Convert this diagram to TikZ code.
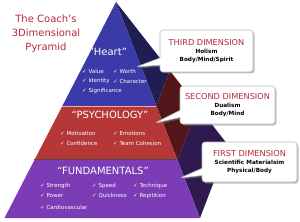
\documentclass[tikz,border=0pt]{standalone}
\usepackage{fontspec}
\setmainfont{DejaVu Sans}
\usetikzlibrary{calc, shapes.callouts, shadows}
\definecolor{heartblue}{RGB}{58, 58, 168}
\definecolor{heartdark}{RGB}{30, 30, 82}
\definecolor{psyred}{RGB}{182, 55, 55}
\definecolor{psydark}{RGB}{82, 22, 26}
\definecolor{fundpurple}{RGB}{124, 60, 182}
\definecolor{funddark}{RGB}{46, 26, 78}
\definecolor{titlered}{RGB}{180, 42, 58}
\tikzset{
  layertitle/.style={text=white, inner sep=0pt, font=\fontsize{10}{12}\selectfont},
  item/.style={text=white, anchor=west, inner sep=0pt, font=\fontsize{5.5}{6}\selectfont},
  dimbox/.style={rectangle callout, rounded corners=3pt, draw=gray!55, fill=white,
              line width=0.6pt, align=center, inner sep=1pt, font=\fontsize{5.7}{8.2}\selectfont\bfseries,
              drop shadow={shadow xshift=1.5pt, shadow yshift=-1.5pt, opacity=0.5}},
}
\newcommand{\dimhead}[1]{{\color{titlered}\fontsize{8.2}{9}\mdseries\selectfont #1}}

\begin{document}
\begin{tikzpicture}[x=1pt, y=-1pt]
    \useasboundingbox (0,0) rectangle (300,222);
    % corners of the pyramid
    \coordinate (apex) at (116,2);
    \coordinate (fl) at (4.5,218);
    \coordinate (fr) at (200,218);
    \coordinate (br) at (228,145);
    % cuts between the layers
    \coordinate (l1) at ($(apex)!0.481!(fl)$);
    \coordinate (r1) at ($(apex)!0.481!(fr)$);
    \coordinate (b1) at ($(apex)!0.481!(br)$);
    \coordinate (l2) at ($(apex)!0.731!(fl)$);
    \coordinate (r2) at ($(apex)!0.731!(fr)$);
    \coordinate (b2) at ($(apex)!0.731!(br)$);

    % side face
    \fill[heartdark] (apex) -- (r1) -- (b1) -- cycle;
    \fill[psydark] (r1) -- (r2) -- (b2) -- (b1) -- cycle;
    \fill[funddark] (r2) -- (fr) -- (br) -- (b2) -- cycle;
    % front face
    \fill[heartblue] (apex) -- (l1) -- (r1) -- cycle;
    \fill[psyred] (l1) -- (l2) -- (r2) -- (r1) -- cycle;
    \fill[fundpurple] (l2) -- (fl) -- (fr) -- (r2) -- cycle;
    \draw[white!60!psyred, line width=0.5pt] (l1) -- (r1);
    \draw[black!70, line width=0.8pt] (l2) -- (r2);

    \node[font=\fontsize{10}{14}\selectfont, text=titlered, align=center] (title) at (46,34)
        {The Coach’s\\3Dimensional\\Pyramid};

    \node[layertitle] (heart) at (108,52) {“Heart”};
    \node[item] (value) at (82,71) {✓ Value};
    \node[item] (worth) at (113,71) {✓ Worth};
    \node[item] (identity) at (82,81) {✓ Identity};
    \node[item] (character) at (113,81) {✓ Character};
    \node[item] (significance) at (82,91) {✓ Significance};

    \node[layertitle] (psych) at (110,115) {“PSYCHOLOGY”};
    \node[item] (motivation) at (60,133) {✓ Motivation};
    \node[item] (emotions) at (113,133) {✓ Emotions};
    \node[item] (confidence) at (60,143) {✓ Confidence};
    \node[item] (cohesion) at (113,143) {✓ Team Cohesion};

    \node[layertitle] (fund) at (103,171) {“FUNDAMENTALS”};
    \node[item] (strength) at (40,186) {✓ Strength};
    \node[item] (speed) at (92,186) {✓ Speed};
    \node[item] (technique) at (133,186) {✓ Technique};
    \node[item] (power) at (40,196) {✓ Power};
    \node[item] (quickness) at (92,196) {✓ Quickness};
    \node[item] (repitition) at (133,196) {✓ Repitition};
    \node[item] (cardio) at (40,207) {✓ Cardiovascular};

    % callouts
    \coordinate (tip3) at (136,67);
    \coordinate (tip2) at (155,123);
    \coordinate (tip1) at (180,178);
    \node[dimbox, minimum width=93pt, minimum height=42pt, callout absolute pointer={(tip3)}] (third) at (206.5,51)
        {\dimhead{THIRD DIMENSION}\\Holism\\Body/Mind/Spirit};
    \node[dimbox, minimum width=95pt, minimum height=38pt, callout absolute pointer={(tip2)}] (second) at (227.5,105)
        {\dimhead{SECOND DIMENSION}\\Dualism\\Body/Mind};
    \node[dimbox, minimum width=95pt, minimum height=40pt, callout absolute pointer={(tip1)}] (first) at (249.5,162)
        {\dimhead{FIRST DIMENSION}\\Scientific Materialsim\\Physical/Body};
\end{tikzpicture}
\end{document}
